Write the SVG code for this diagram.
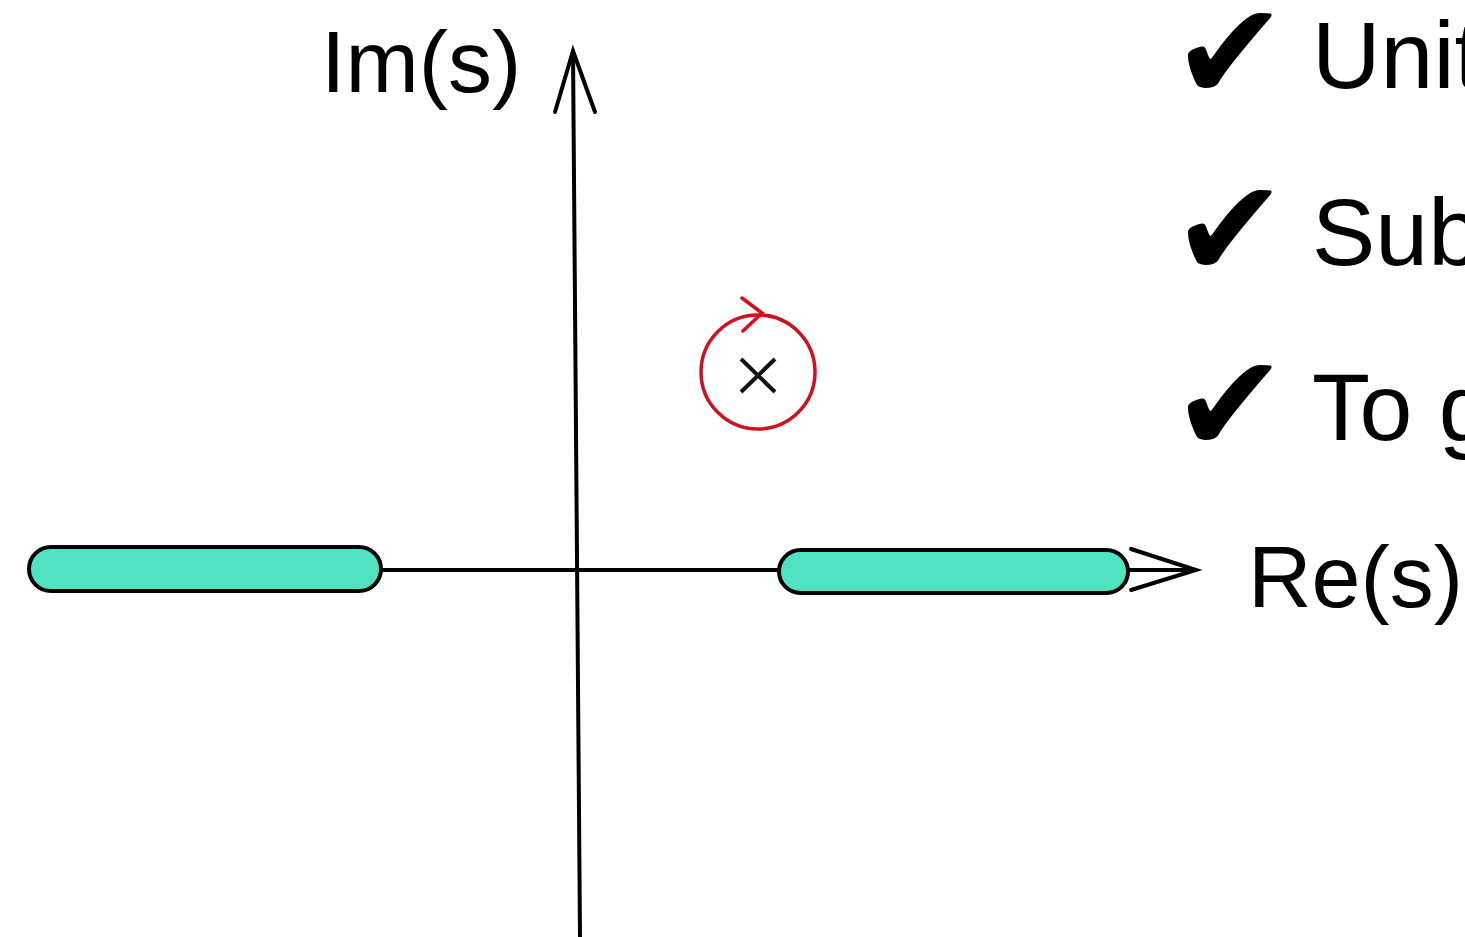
<svg xmlns="http://www.w3.org/2000/svg" width="1465" height="937" viewBox="0 0 1465 937">
<style>
.axis{stroke:#000;stroke-width:4;fill:none;stroke-linecap:round;stroke-linejoin:miter}
.bar{fill:#50e3c2;stroke:#000;stroke-width:4}
.lbl{font-family:"Liberation Sans",Arial,sans-serif;fill:#000}
.chk{font-family:"DejaVu Sans",sans-serif;font-size:138px}
</style>
<rect width="1465" height="937" fill="#fff"/>
<g id="connectors">
<line class="axis" x1="381" y1="570" x2="779" y2="570"/>
<line class="axis" x1="1128" y1="570" x2="1195" y2="570"/>
<polyline class="axis" points="1131,549 1196,570 1131,590"/>
<line class="axis" x1="580" y1="937" x2="573" y2="52"/>
<polyline class="axis" points="555,112 573,51 595,112"/>
</g>
<g id="bar-left"><rect class="bar" x="29" y="547" width="352" height="44" rx="22"/></g>
<g id="bar-right"><rect class="bar" x="779" y="550" width="349" height="43" rx="21.5"/></g>
<g id="pole">
<circle cx="758" cy="372" r="57" fill="none" stroke="#d0101e" stroke-width="3.5"/>
<polyline points="742,298 762,313 743,331" fill="none" stroke="#d0101e" stroke-width="3.5" stroke-linecap="round"/>
<path d="M741,359 L775,392 M775,359 L741,392" stroke="#111" stroke-width="4" fill="none"/>
</g>
<g id="labels">
<text class="lbl" x="321" y="92" font-size="88">Im(s)</text>
<text class="lbl" x="1248" y="607" font-size="88">Re(s)</text>
</g>
<g id="checklist">
<text class="lbl" font-size="95"><tspan class="chk" x="1172" y="100">✔</tspan><tspan x="1312" y="88">Unit</tspan></text>
<text class="lbl" font-size="95"><tspan class="chk" x="1172" y="277">✔</tspan><tspan x="1312" y="265">Sub</tspan></text>
<text class="lbl" font-size="95"><tspan class="chk" x="1172" y="452">✔</tspan><tspan x="1312" y="440">To g</tspan></text>
</g>
</svg>
